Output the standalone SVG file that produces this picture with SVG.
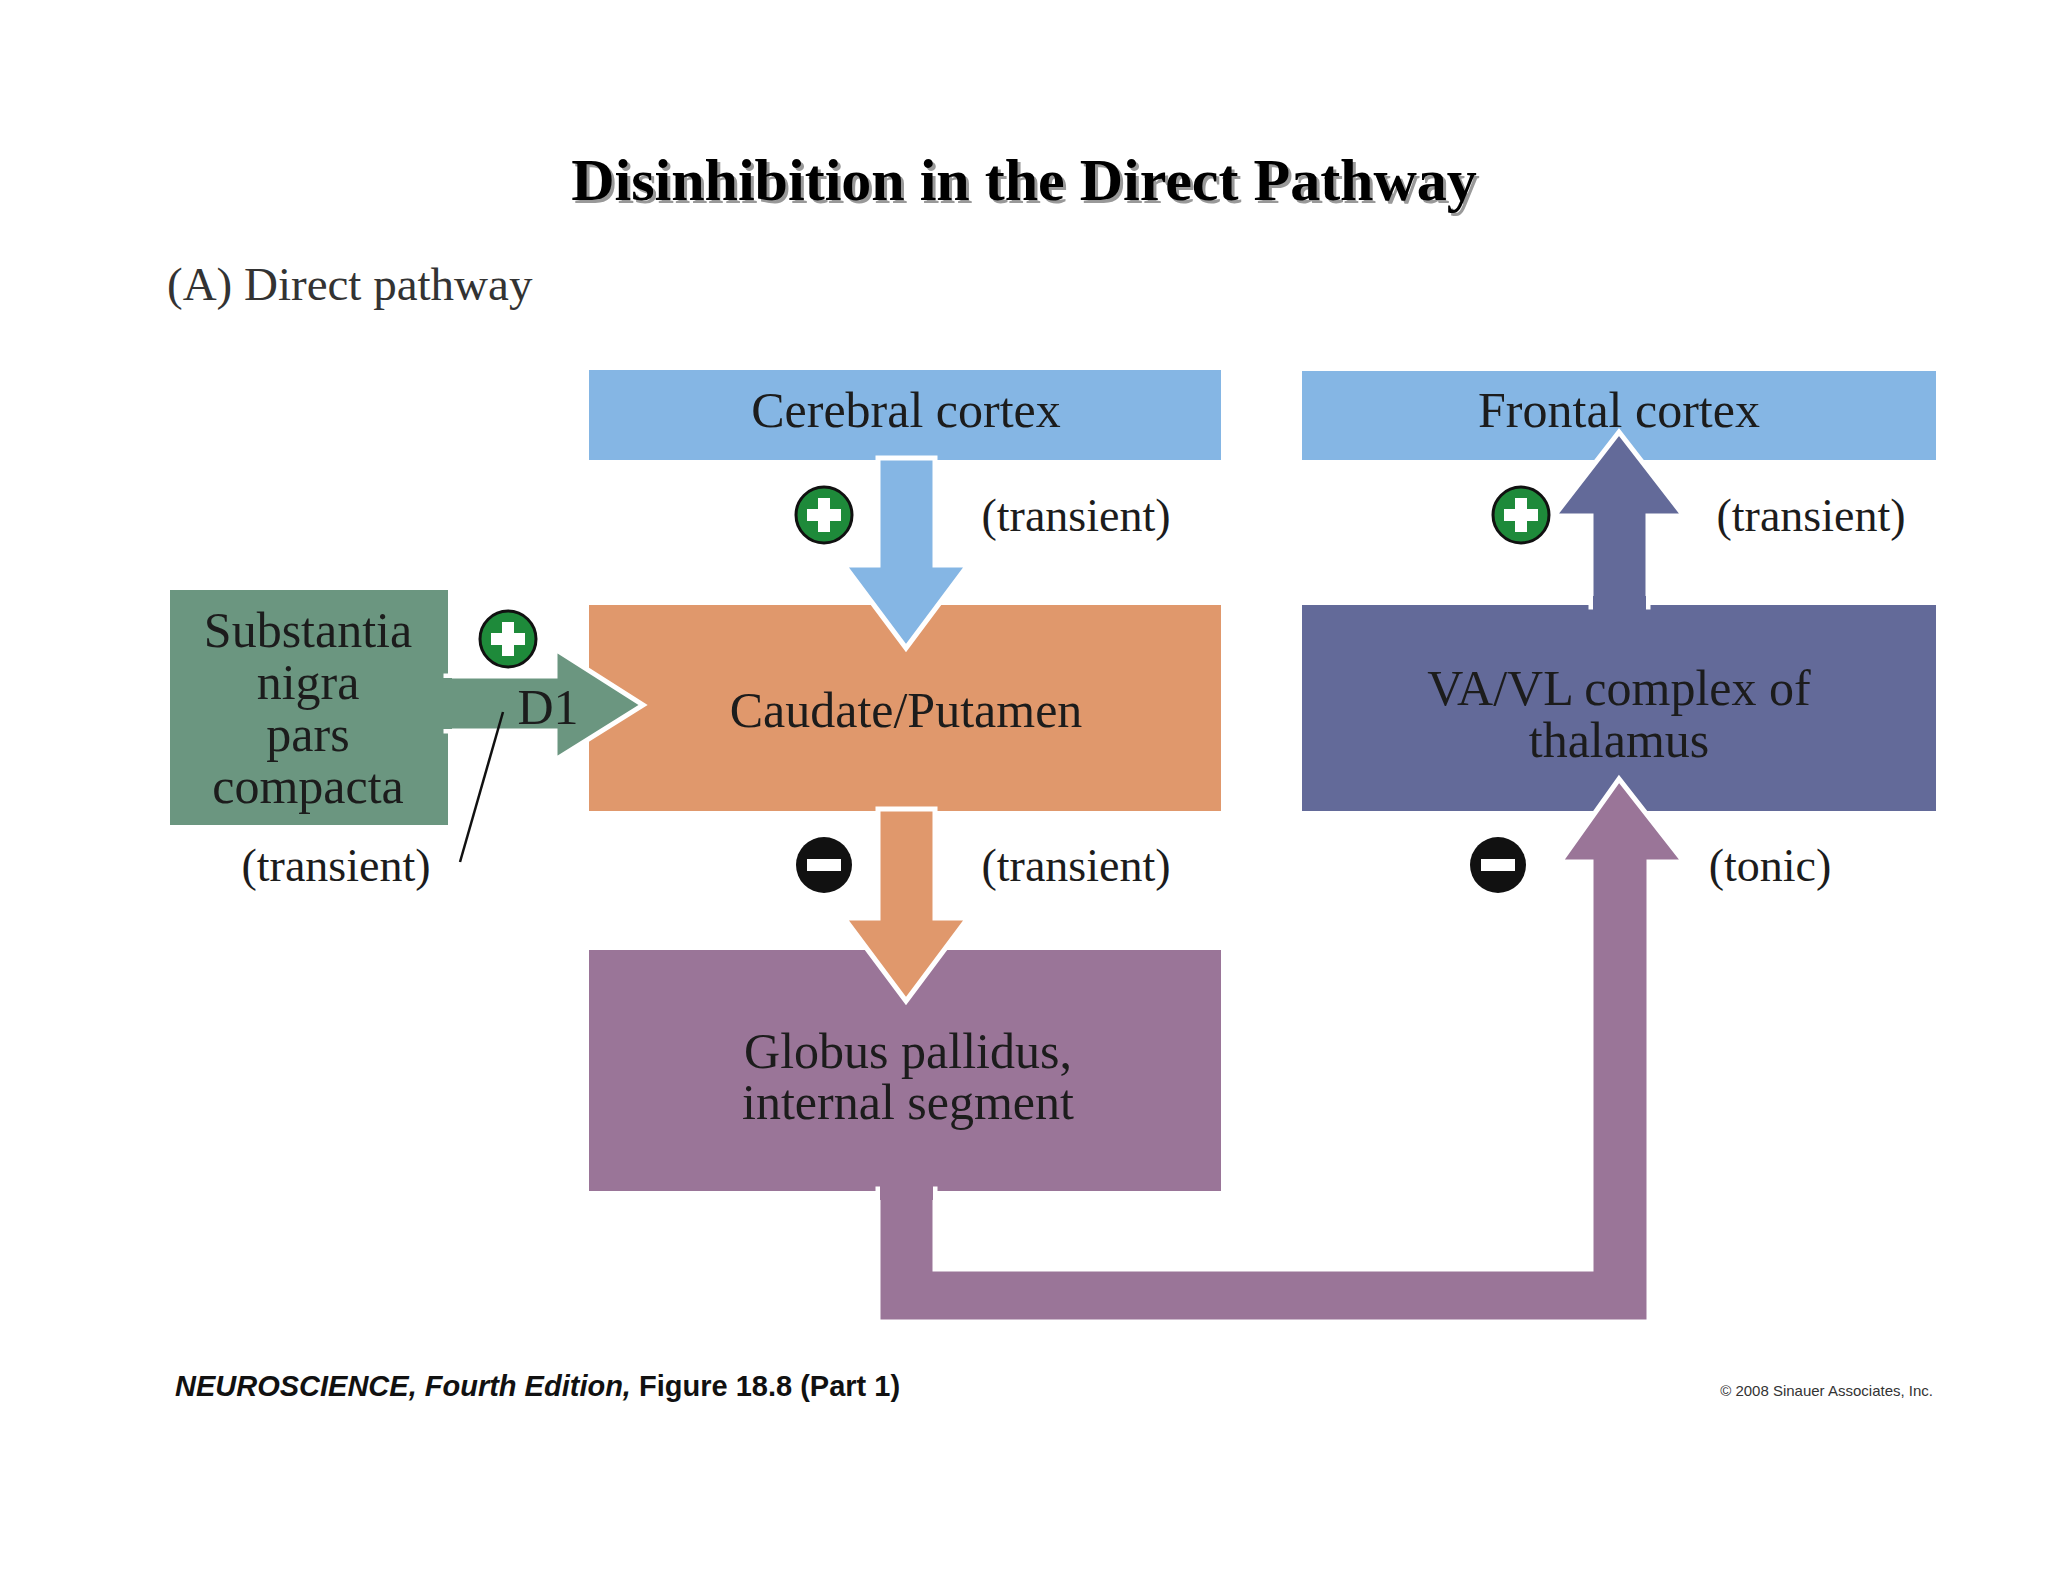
<svg xmlns="http://www.w3.org/2000/svg" width="2048" height="1582" viewBox="0 0 2048 1582">
<style>
.lbl{font-family:"Liberation Serif",serif;font-size:46px;fill:#1c1c1c;text-anchor:middle}
.nd{font-family:"Liberation Serif",serif;font-size:50px;fill:#1c1c1c;text-anchor:middle}
.arr{stroke:#fff;stroke-width:5;stroke-linejoin:miter}
</style>
<defs>
<g id="plus"><circle r="28" fill="#1e8a3a" stroke="#111" stroke-width="3"/><rect x="-17" y="-6" width="34" height="12" fill="#fff"/><rect x="-6" y="-17" width="12" height="34" fill="#fff"/></g>
<g id="minus"><circle r="28" fill="#111"/><rect x="-17" y="-6" width="34" height="12" fill="#fff"/></g>
</defs>
<rect width="2048" height="1582" fill="#fff"/>
<text x="1027" y="203" font-family="Liberation Serif,serif" font-size="60" font-weight="bold" fill="#999" text-anchor="middle">Disinhibition in the Direct Pathway</text>
<text x="1024" y="200" font-family="Liberation Serif,serif" font-size="60" font-weight="bold" fill="#000" text-anchor="middle">Disinhibition in the Direct Pathway</text>
<text x="167" y="300" font-family="Liberation Serif,serif" font-size="47" fill="#333">(A)  Direct pathway</text>
<g id="cerebral"><rect x="589" y="370" width="632" height="90" fill="#85b6e4"/><text class="nd" x="906" y="427">Cerebral cortex</text></g>
<g id="frontal"><rect x="1302" y="371" width="634" height="89" fill="#85b6e4"/></g>
<g id="caudate"><rect x="589" y="605" width="632" height="206" fill="#e0986c"/></g>
<g id="thalamus"><rect x="1302" y="605" width="634" height="206" fill="#636a99"/></g>
<g id="globus"><rect x="589" y="950" width="632" height="241" fill="#9a7598"/><text class="nd" x="908" y="1068">Globus pallidus,</text><text class="nd" x="908" y="1119">internal segment</text></g>
<g id="sn"><rect x="170" y="590" width="278" height="235" fill="#6b9680"/><text class="nd" x="308" y="647">Substantia</text><text class="nd" x="308" y="699">nigra</text><text class="nd" x="308" y="751">pars</text><text class="nd" x="308" y="803">compacta</text></g>
<g id="connectors">
<polygon class="arr" fill="#85b6e4" points="878,458 935,458 935,565 968,565 906,648 844,565 878,565"/>
<polygon class="arr" fill="#e0986c" points="878,809 935,809 935,918 968,918 906,1001 844,918 878,918"/>
<polygon class="arr" fill="#636a99" points="1591,607 1648,607 1648,516 1684,516 1619,432 1554,516 1591,516"/>
<polygon class="arr" fill="#9a7598" points="878,1189 935,1189 935,1269 1591,1269 1591,862 1560,862 1619,779 1684,862 1649,862 1649,1322 878,1322"/>
<polygon fill="#9a7598" points="880,1180 933,1180 933,1200 880,1200"/>
<polygon fill="#636a99" points="1593,596 1646,596 1646,612 1593,612"/>
<polygon class="arr" fill="#6b9680" points="446,676 555,676 555,649 643,705 555,760 555,731 446,731"/>
<rect x="440" y="678" width="12" height="51" fill="#6b9680"/>
<line x1="503" y1="712" x2="460" y2="862" stroke="#111" stroke-width="2.5"/>
</g>
<text class="nd" x="906" y="727">Caudate/Putamen</text>
<text class="nd" x="1619" y="427">Frontal cortex</text>
<text class="nd" x="1619" y="705">VA/VL complex of</text>
<text class="nd" x="1619" y="757">thalamus</text>
<text class="nd" x="548" y="724">D1</text>
<use href="#plus" x="824" y="515"/>
<use href="#plus" x="1521" y="515"/>
<use href="#plus" x="508" y="639"/>
<use href="#minus" x="824" y="865"/>
<use href="#minus" x="1498" y="865"/>
<text class="lbl" x="1076" y="531">(transient)</text>
<text class="lbl" x="1811" y="531">(transient)</text>
<text class="lbl" x="1076" y="881">(transient)</text>
<text class="lbl" x="1770" y="881">(tonic)</text>
<text class="lbl" x="336" y="881">(transient)</text>
<text x="175" y="1396" font-family="Liberation Sans,sans-serif" font-size="29" font-weight="bold" fill="#111"><tspan font-style="italic">NEUROSCIENCE, Fourth Edition,</tspan> Figure 18.8 (Part 1)</text>
<text x="1933" y="1396" font-family="Liberation Sans,sans-serif" font-size="15" fill="#333" text-anchor="end">© 2008 Sinauer Associates, Inc.</text>
</svg>
